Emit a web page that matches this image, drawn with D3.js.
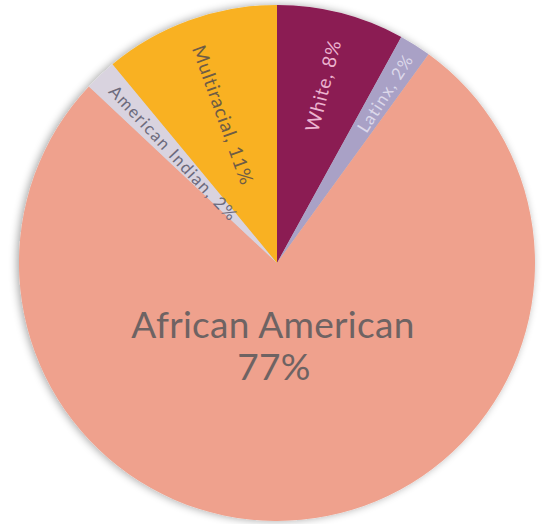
<!DOCTYPE html>
<html>
<head>
<meta charset="utf-8">
<script src="https://cdn.jsdelivr.net/npm/d3@7"></script>
<style>
  html, body { margin: 0; padding: 0; background: #ffffff; }
  svg { display: block; }
</style>
</head>
<body>
<script>
// Data (clockwise from 12 o'clock)
const categories = ["White", "Latinx", "African American", "American Indian", "Multiracial"];
const values = [8, 2, 77, 2, 11];
const labels = ["White, 8%", "Latinx, 2%", "African American", "American Indian, 2%", "Multiracial, 11%"];
const colors = ["#8b1a52", "#a9a1c6", "#efa18d", "#d9d3df", "#f9b120"];
const textColors = ["#ecb3cf", "#dcd8ea", "#6e6363", "#6c6a7c", "#6e5c45"];

const W = 547, H = 524;
const cx = 277, cy = 263, R = 258;

const svg = d3.select("body").append("svg").attr("width", W).attr("height", H);

const defs = svg.append("defs");
const f = defs.append("filter").attr("id", "shadow").attr("x", "-10%").attr("y", "-10%").attr("width", "120%").attr("height", "120%");
f.append("feGaussianBlur").attr("in", "SourceAlpha").attr("stdDeviation", 4).attr("result", "b");
f.append("feOffset").attr("in", "b").attr("dx", -2).attr("dy", 0).attr("result", "o");
f.append("feComponentTransfer").attr("in", "o").attr("result", "s")
  .append("feFuncA").attr("type", "linear").attr("slope", 0.35);
const m = f.append("feMerge");
m.append("feMergeNode").attr("in", "s");
m.append("feMergeNode").attr("in", "SourceGraphic");

const data = categories.map((c, i) => ({ cat: c, value: values[i], label: labels[i], color: colors[i], tc: textColors[i] }));

const pie = d3.pie().value(d => d.value).sort(null);
const arcs = pie(data);
const arc = d3.arc().innerRadius(0).outerRadius(R);

const g = svg.append("g").attr("transform", `translate(${cx},${cy})`);

g.append("g").attr("filter", "url(#shadow)")
  .selectAll("path").data(arcs).join("path")
  .attr("d", arc)
  .attr("fill", d => d.data.color);

const font = "Lato, 'DejaVu Sans', sans-serif";

// Radial labels for small slices
const radialCfg = {
  "White": { r: 0.71, size: 19, ls: 0.8 },
  "Latinx": { r: 0.78, size: 17, ls: 1.2 },
  "American Indian": { r: 0.585, size: 17, ls: 1.4 },
  "Multiracial": { r: 0.61, size: 19, ls: 0.8 }
};

arcs.forEach(a => {
  const d = a.data;
  const mid = (a.startAngle + a.endAngle) / 2;
  if (d.cat === "African American") {
    const t = g.append("text")
      .attr("text-anchor", "middle")
      .attr("font-family", font)
      .attr("font-weight", 400)
      .attr("fill", d.tc)
      .attr("font-size", 37)
      .attr("letter-spacing", 0.3);
    t.append("tspan").attr("x", -4).attr("y", 75).text(d.label);
    t.append("tspan").attr("x", -3).attr("y", 117).text(d3.format(".0%")(d.value / 100));
    return;
  }
  const cfg = radialCfg[d.cat];
  const rr = R * cfg.r;
  const x = Math.sin(mid) * rr, y = -Math.cos(mid) * rr;
  const deg = mid * 180 / Math.PI;
  // right half reads outward (bottom->top), left half reads inward (top->bottom)
  const rot = deg < 180 ? deg - 90 : deg - 270;
  g.append("text")
    .attr("transform", `translate(${x},${y}) rotate(${rot})`)
    .attr("text-anchor", "middle")
    .attr("dominant-baseline", "central")
    .attr("font-family", font)
    .attr("font-size", cfg.size)
    .attr("letter-spacing", cfg.ls)
    .attr("fill", d.tc)
    .text(d.label);
});
</script>
</body>
</html>
